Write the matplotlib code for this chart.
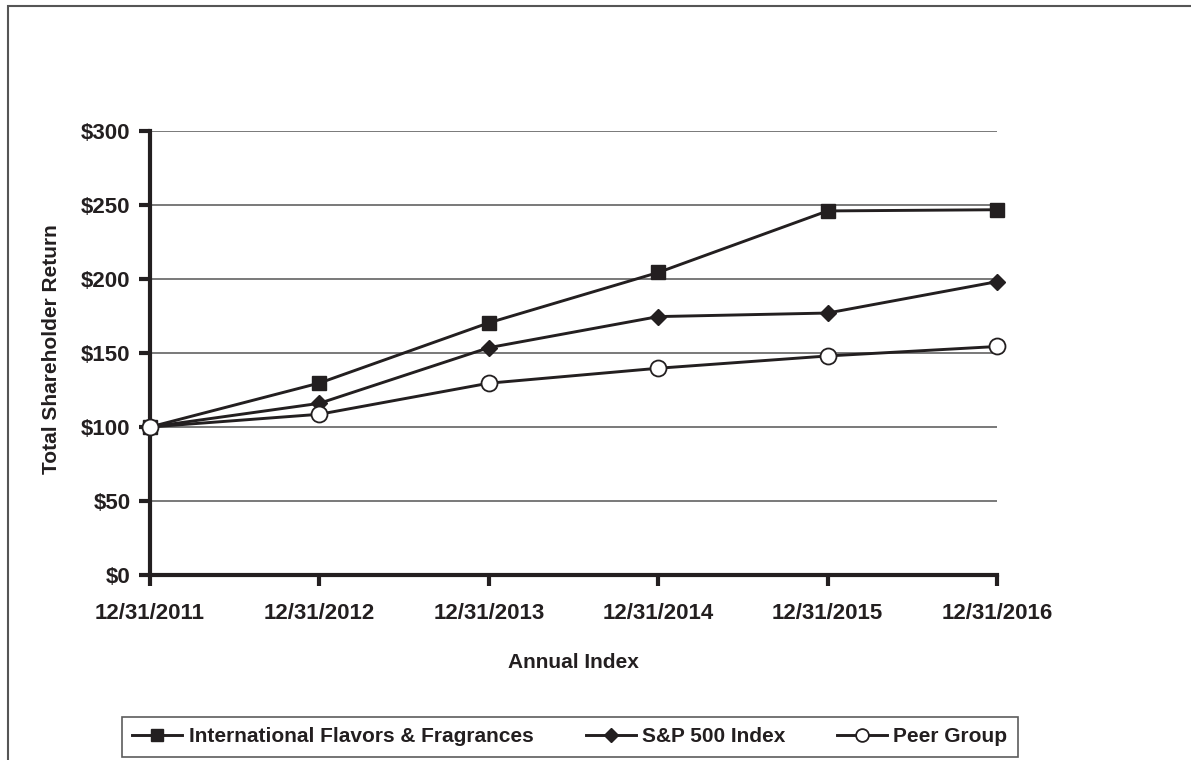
import matplotlib.pyplot as plt
from matplotlib.patches import Rectangle

plt.rcParams['font.family'] = ['Liberation Sans', 'DejaVu Sans']
plt.rcParams['font.weight'] = 'bold'

# data
dates = ['12/31/2011', '12/31/2012', '12/31/2013', '12/31/2014', '12/31/2015', '12/31/2016']
iff = [100, 129.7, 170.4, 204.4, 246.0, 246.8]
sp500 = [100, 116.0, 153.6, 174.6, 177.0, 198.2]
peer = [100, 108.6, 129.6, 139.7, 148.0, 154.4]
yticks = [0, 50, 100, 150, 200, 250, 300]

ink = '#231f20'

fig = plt.figure(figsize=(11.91, 7.60), dpi=100)
ax = fig.add_axes([150 / 1191, 1 - 575 / 760, (997 - 150) / 1191, (575 - 131) / 760])

# outer frame of the picture (runs off right and bottom edges)
fig.patches.append(Rectangle((8 / 1191, -0.05), 1.2, 1 - 6 / 760 + 0.05,
                             transform=fig.transFigure, fill=False,
                             edgecolor='#555555', linewidth=1.5, zorder=0))

x = list(range(len(dates)))
for yv in yticks[1:]:
    ax.axhline(yv, color='#555555', linewidth=1.1, zorder=1)

ax.plot(x, iff, color=ink, linewidth=2.1, marker='s', markersize=10.5,
        markerfacecolor=ink, markeredgecolor=ink, label='International Flavors & Fragrances',
        zorder=3, clip_on=False)
ax.plot(x, sp500, color=ink, linewidth=2.1, marker='D', markersize=8.5,
        markerfacecolor=ink, markeredgecolor=ink, label='S&P 500 Index', zorder=3, clip_on=False)
ax.plot(x, peer, color=ink, linewidth=2.1, marker='o', markersize=11.5,
        markerfacecolor='white', markeredgecolor=ink, markeredgewidth=1.3,
        label='Peer Group', zorder=4, clip_on=False)

ax.set_xlim(0, len(dates) - 1)
ax.set_ylim(0, 300)
ax.set_xticks(x)
ax.set_xticklabels(dates)
ax.set_yticks(yticks)
ax.set_yticklabels(['$' + str(v) for v in yticks])

for s in ['top', 'right']:
    ax.spines[s].set_visible(False)
for s in ['left', 'bottom']:
    ax.spines[s].set_linewidth(3)
    ax.spines[s].set_color(ink)
ax.tick_params(axis='both', direction='out', length=8, width=3, color=ink,
               labelsize=16, labelcolor=ink)
ax.tick_params(axis='x', pad=12)
ax.tick_params(axis='y', pad=6)
for lbl in ax.get_xticklabels() + ax.get_yticklabels():
    lbl.set_fontweight('bold')

fig.text(573 / 1191, 1 - 662 / 760, 'Annual Index', fontsize=15, fontweight='bold',
         color=ink, ha='center', va='center')
fig.text(52 / 1191, 1 - 349 / 760, 'Total Shareholder Return', fontsize=15, fontweight='bold',
         color=ink, ha='center', va='center', rotation=90)

handles, labels = ax.get_legend_handles_labels()
leg = fig.legend(handles, labels, loc='center', ncol=3,
                 bbox_to_anchor=(570 / 1191, 1 - 737 / 760), bbox_transform=fig.transFigure,
                 frameon=True, fancybox=False, edgecolor='#333333',
                 prop={'weight': 'bold', 'size': 15},
                 handlelength=2.4, handletextpad=0.3, columnspacing=2.5,
                 borderpad=0.5, markerscale=0.8)
leg.get_frame().set_linewidth(1.2)
for t in leg.get_texts():
    t.set_color(ink)

fig.savefig('out.png', dpi=100, facecolor='white')
